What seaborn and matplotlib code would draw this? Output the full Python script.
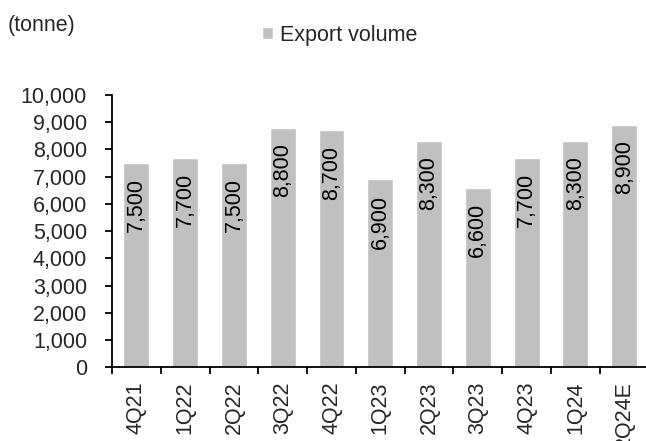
import matplotlib
matplotlib.use("Agg")
import matplotlib.pyplot as plt
import seaborn as sns
import pandas as pd
from matplotlib.ticker import FuncFormatter, MultipleLocator

quarters = ["4Q21", "1Q22", "2Q22", "3Q22", "4Q22", "1Q23", "2Q23", "3Q23", "4Q23", "1Q24", "2Q24E"]
export_volume = [7500, 7700, 7500, 8800, 8700, 6900, 8300, 6600, 7700, 8300, 8900]
series_name = "Export volume"
unit_label = "(tonne)"

df = pd.DataFrame({"quarter": quarters, "volume": export_volume})

sns.set_theme(style="white")
plt.rcParams["font.family"] = ["Liberation Sans", "DejaVu Sans"]
FS = 15.5

fig = plt.figure(figsize=(6.46, 4.41), dpi=100)
ax = fig.add_axes([0.1734, 0.1667, 1.004 - 0.1734, 0.7846 - 0.1667])

sns.barplot(data=df, x="quarter", y="volume", color="#C0C0C0", width=0.53,
            saturation=1, ax=ax, label=series_name)

ax.set_ylim(0, 10000)
ax.set_xlim(-0.5, len(quarters) - 0.5)
ax.yaxis.set_major_locator(MultipleLocator(1000))
ax.yaxis.set_major_formatter(FuncFormatter(lambda v, p: f"{int(v):,}"))
ax.set_xlabel("")
ax.set_ylabel("")

for s in ["top", "right"]:
    ax.spines[s].set_visible(False)
for s in ["left", "bottom"]:
    ax.spines[s].set_color("black")
    ax.spines[s].set_linewidth(1.3)

# x ticks between categories
ax.set_xticks([i - 0.5 for i in range(len(quarters))], minor=False)
ax.set_xticklabels([])
ax.set_xticks(range(len(quarters)), minor=True)
ax.set_xticklabels(quarters, minor=True, rotation=90, fontsize=FS)
ax.tick_params(axis="x", which="major", direction="out", length=5, width=1.3, color="black", bottom=True)
ax.tick_params(axis="x", which="minor", length=0, pad=10)
ax.tick_params(axis="y", direction="out", length=5, width=1.3, color="black", left=True, labelsize=FS, pad=13)
for lbl in ax.get_xticklabels(minor=True):
    lbl.set_verticalalignment("top")

for i, v in enumerate(export_volume):
    ax.annotate(f"{v:,}", xy=(i, v), xytext=(0, -11), textcoords="offset points",
                rotation=90, ha="center", va="top", fontsize=FS, color="black")

fig.text(8 / 646, 1 - 26 / 441, unit_label, fontsize=FS, va="center", ha="left")

leg = ax.legend(loc="center left", bbox_to_anchor=(251 / 646, 1 - 35 / 441),
                bbox_transform=fig.transFigure, frameon=False, fontsize=FS,
                handlelength=0.5, handleheight=0.5, handletextpad=0.35, borderpad=0)

fig.savefig("out.png", dpi=100)
